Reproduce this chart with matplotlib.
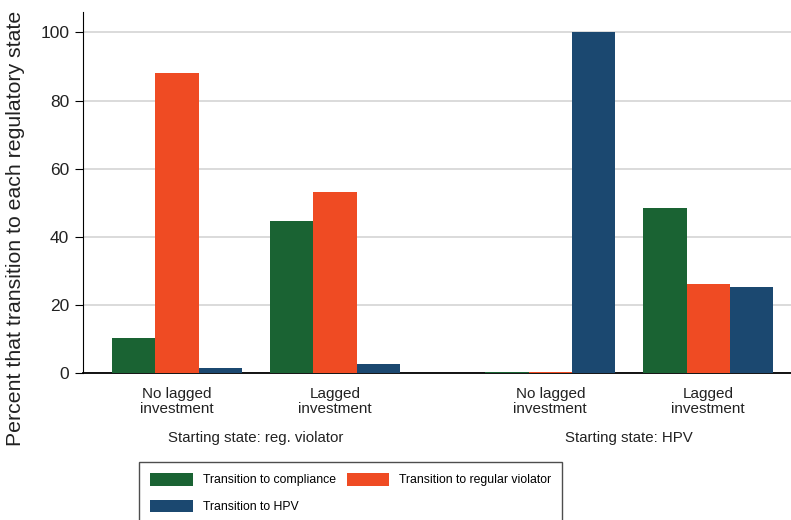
import numpy as np
import matplotlib
matplotlib.use("Agg")
import matplotlib.pyplot as plt
from matplotlib.transforms import blended_transform_factory

plt.rcParams["font.family"] = ["Liberation Sans", "DejaVu Sans"]

# categories
tick_labels = ["No lagged\ninvestment", "Lagged\ninvestment",
               "No lagged\ninvestment", "Lagged\ninvestment"]
start_states = ["Starting state: reg. violator", "Starting state: HPV"]
series_names = ["Transition to compliance", "Transition to regular violator",
                "Transition to HPV"]
colors = ["#1a6333", "#ef4b23", "#1b4870"]

# percent transitioning, per group
compliance = [10.3, 44.5, 0.3, 48.4]
reg_violator = [88.1, 53.0, 0.3, 26.1]
hpv = [1.5, 2.5, 100.0, 25.3]

group_pos = np.array([0.0, 3.65, 8.62, 12.27])
width = 1.0

fig = plt.figure(figsize=(7.91, 5.20), dpi=100)
ax = fig.add_axes([0.105, 0.2827, 0.895, 0.6943])

bars = []
for i, (vals, col) in enumerate(zip([compliance, reg_violator, hpv], colors)):
    b = ax.bar(group_pos + (i - 1) * width, vals, width=width, color=col,
               label=series_names[i], zorder=5, linewidth=0)
    bars.append(b)

ax.set_xlim(-2.17, 14.18)
ax.set_ylim(0, 106)
ax.set_yticks(np.arange(0, 101, 20))
ax.yaxis.grid(True, color="#d4d4d4", linewidth=1.2, zorder=0)
ax.set_axisbelow(True)

ax.set_xticks(group_pos)
ax.set_xticklabels(tick_labels, fontsize=11, color="#222222", linespacing=1.1)
ax.tick_params(axis="x", length=0, pad=10)
ax.tick_params(axis="y", length=6, width=0.8, labelsize=12.5,
               labelcolor="#222222", pad=4)

for s in ["top", "right"]:
    ax.spines[s].set_visible(False)
ax.spines["left"].set_linewidth(0.8)
ax.spines["bottom"].set_linewidth(1.3)
ax.spines["bottom"].set_zorder(4)

ax.set_ylabel("Percent that transition to each regulatory state",
              fontsize=15.3, color="#222222")
ax.yaxis.set_label_coords(-0.082, 0.40)

trans = blended_transform_factory(ax.transData, ax.transAxes)
ax.text(group_pos[:2].mean(), -0.18, start_states[0], transform=trans,
        ha="center", va="center", fontsize=10.8, color="#222222")
ax.text(group_pos[2:].mean(), -0.18, start_states[1], transform=trans,
        ha="center", va="center", fontsize=10.8, color="#222222")

# matplotlib fills legend columns first: compliance, HPV | regular violator
order = [0, 2, 1]
leg = fig.legend(handles=[bars[k] for k in order],
                 labels=[series_names[k] for k in order], ncol=2,
                 loc="upper left", bbox_to_anchor=(139 / 791, 1 - 462 / 520),
                 fontsize=8.8, frameon=True, fancybox=False,
                 edgecolor="#222222", handlelength=3.5, handleheight=1.2,
                 handletextpad=0.8, columnspacing=0.9, borderpad=0.9,
                 labelspacing=1.1, borderaxespad=0)
leg.get_frame().set_linewidth(1.0)

fig.savefig("out.png", dpi=100)
